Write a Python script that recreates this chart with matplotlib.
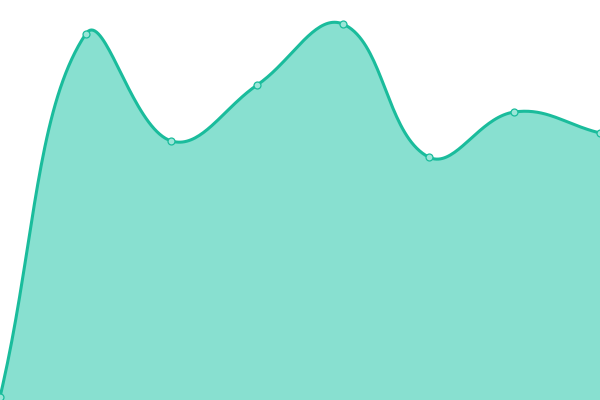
import numpy as np
import matplotlib.pyplot as plt

# data
x_pos = [0, 1, 2, 3, 4, 5, 6, 7]
values = [3, 366, 259, 315, 376, 243, 288, 267]

line_color = "#1abc9c"
fill_color = "#88e0d0"

W, H = 600, 400
x_max, y_max = 7, 400
tension = 0.4


def smooth(xs, ys, n=40):
    # bezier spline with distance-weighted control points, done in pixel space
    kx, ky = W / x_max, H / y_max
    p = np.column_stack([np.asarray(xs) * kx, np.asarray(ys) * ky]).astype(float)
    m = len(p)
    before, after = p.copy(), p.copy()
    for i in range(m):
        prev = p[i - 1] if i > 0 else p[i]
        nxt = p[i + 1] if i < m - 1 else p[i]
        d01 = np.linalg.norm(p[i] - prev)
        d12 = np.linalg.norm(nxt - p[i])
        tot = d01 + d12
        s01 = d01 / tot if tot else 0
        s12 = d12 / tot if tot else 0
        before[i] = p[i] - tension * s01 * (nxt - prev)
        after[i] = p[i] + tension * s12 * (nxt - prev)
    before[:, 0] = before[:, 0].clip(0, W); before[:, 1] = before[:, 1].clip(0, H)
    after[:, 0] = after[:, 0].clip(0, W); after[:, 1] = after[:, 1].clip(0, H)
    t = np.linspace(0, 1, n)[:, None]
    out = []
    for i in range(m - 1):
        p1, c1, c2, p2 = p[i], after[i], before[i + 1], p[i + 1]
        seg = (1 - t) ** 3 * p1 + 3 * (1 - t) ** 2 * t * c1 + 3 * (1 - t) * t ** 2 * c2 + t ** 3 * p2
        out.append(seg if i == 0 else seg[1:])
    out = np.vstack(out)
    return out[:, 0] / kx, out[:, 1] / ky


sx, sy = smooth(x_pos, values)

fig = plt.figure(figsize=(6, 4), dpi=100)
ax = fig.add_axes([0, 0, 1, 1])
ax.fill_between(sx, 0, sy, color=fill_color, linewidth=0)
ax.plot(sx, sy, color=line_color, linewidth=2.2, solid_capstyle="round")
ax.plot(x_pos, values, "o", markersize=5, markerfacecolor="#9be6d8",
        markeredgecolor=line_color, markeredgewidth=0.9, clip_on=False)
ax.set_xlim(0, x_max)
ax.set_ylim(0, y_max)
ax.axis("off")
fig.savefig("out.png", dpi=100)
